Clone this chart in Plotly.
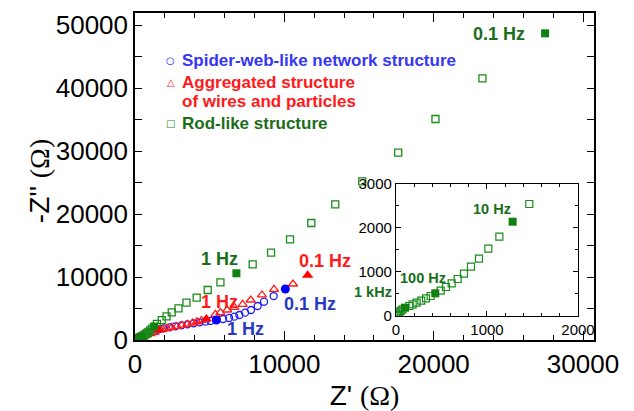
import plotly.graph_objects as go

FONT = "Liberation Sans, Arial, sans-serif"

# ---------------- data ----------------
# Spider-web-like network structure (open blue circles)
blue_x = [40, 120, 260, 450, 700, 1000, 1300, 1600, 1930, 2330, 2710, 3110, 3510, 3935,
          4335, 4715, 5050, 5900, 6300, 6650, 6990, 7370, 7770, 8215, 8640, 9285]
blue_y = [90, 260, 470, 700, 960, 1230, 1480, 1680, 1860, 2010, 2170, 2330, 2490, 2650,
          2800, 2910, 3020, 3330, 3500, 3700, 3970, 4340, 4760, 5400, 6080, 6980]
# labelled frequencies (1 Hz, 0.1 Hz)
blue_fx = [5450, 10067]
blue_fy = [3175, 8095]

# Aggregated structure of wires and particles (open red triangles)
red_x = [30, 100, 200, 350, 550, 800, 1050, 1300, 1850, 2150, 2450, 2800, 3150, 3500,
         3850, 4150, 4450, 5385, 5720, 6165, 6655, 7210, 7750, 8500, 9310, 10580]
red_y = [40, 150, 300, 450, 620, 820, 1020, 1220, 1700, 1850, 2000, 2150, 2350, 2500,
         2700, 2900, 3100, 4080, 4340, 4760, 5190, 5660, 6350, 7150, 8050, 8890]
red_fx = [40, 255, 1592, 4780, 11560]
red_fy = [60, 425, 1587, 3330, 10270]

# Rod-like structure (open green squares)
green_x = [5, 12, 22, 35, 52, 72, 146, 183, 227, 278, 330, 381, 491, 549, 612, 678, 747,
           824, 912, 1015, 1136, 1465, 1790, 2110, 2460, 2910, 3445, 4130, 4870, 5720,
           7880, 9110, 10380, 11806, 13411, 15217, 17625, 20120, 23265]
green_y = [5, 25, 55, 85, 115, 150, 227, 266, 302, 348, 402, 455, 575, 659, 743, 841, 962,
           1121, 1303, 1530, 1803, 2545, 3170, 3760, 4400, 5030, 5920, 6720, 7940, 9150,
           12010, 13860, 15980, 18570, 21540, 25190, 29730, 35080, 41540]
# labelled frequencies (1 kHz, 100 Hz, 10 Hz, 1 Hz, 0.1 Hz)
green_fx = [99, 432, 1282, 6790, 27460]
green_fy = [189, 516, 2143, 10590, 48680]

series_names = ["Spider-web-like network structure",
                "Aggregated structure<br>of wires and particles",
                "Rod-like structure"]

BLUE = "#1a1aff"
RED = "#ff1a1a"
GREEN = "#1a8c1a"
GREEN_F = "#108010"
GREEN_T = "#1a6e1a"
BLUE_T = "#2838c0"
BLUE_L = "#3636f0"

fig = go.Figure()

# ---- main plot ----
fig.add_trace(go.Scatter(
    x=blue_x, y=blue_y, mode="markers", xaxis="x", yaxis="y", name=series_names[0],
    marker=dict(symbol="circle-open", size=7, color=BLUE, line=dict(width=1.3, color=BLUE))))
fig.add_trace(go.Scatter(
    x=red_x, y=red_y, mode="markers", xaxis="x", yaxis="y", name=series_names[1],
    marker=dict(symbol="triangle-up-open", size=8, color=RED, line=dict(width=1.3, color=RED))))
fig.add_trace(go.Scatter(
    x=green_x, y=green_y, mode="markers", xaxis="x", yaxis="y", name=series_names[2],
    marker=dict(symbol="square-open", size=7, color=GREEN, line=dict(width=1.3, color=GREEN))))
fig.add_trace(go.Scatter(
    x=blue_fx, y=blue_fy, mode="markers", xaxis="x", yaxis="y",
    marker=dict(symbol="circle", size=9, color="#0000ff")))
fig.add_trace(go.Scatter(
    x=red_fx, y=red_fy, mode="markers", xaxis="x", yaxis="y",
    marker=dict(symbol="triangle-up", size=10, color="#ff0000")))
fig.add_trace(go.Scatter(
    x=green_fx, y=green_fy, mode="markers", xaxis="x", yaxis="y",
    marker=dict(symbol="square", size=8, color=GREEN_F)))

# ---- inset ----
fig.add_trace(go.Scatter(
    x=green_x, y=green_y, mode="markers", xaxis="x2", yaxis="y2",
    marker=dict(symbol="square-open", size=7, color=GREEN, line=dict(width=1.2, color=GREEN))))
fig.add_trace(go.Scatter(
    x=green_fx, y=green_fy, mode="markers", xaxis="x2", yaxis="y2",
    marker=dict(symbol="square", size=8, color=GREEN_F)))

main_ax = dict(showgrid=False, zeroline=False, showline=True, linecolor="black",
               linewidth=1.5, mirror="ticks", ticks="inside", tickcolor="black",
               automargin=False, tickformat="d",
               tickfont=dict(family=FONT, size=26, color="black"))
inset_ax = dict(showgrid=False, zeroline=False, showline=True, linecolor="black",
                linewidth=1.2, mirror="ticks", ticks="inside", ticklen=5, tickcolor="black",
                automargin=False, tickformat="d",
                tickfont=dict(family=FONT, size=15, color="black"))

# page body has an 8px margin, so the figure is drawn 8px smaller and margins reduced
fig.update_layout(
    width=626, height=403,
    margin=dict(l=127, r=40, t=5, b=71),
    paper_bgcolor="white", plot_bgcolor="white",
    font=dict(family=FONT),
    showlegend=False,
    xaxis=dict(main_ax, range=[0, 30736], dtick=10000, tick0=0, ticklen=9, tickwidth=1.3,
               minor=dict(dtick=2000, ticks="inside", ticklen=5, tickcolor="black"),
               title=dict(text="Z' <span style='font-family:Liberation Serif'>(Ω)</span>",
                          font=dict(size=28, color="black"), standoff=15)),
    yaxis=dict(main_ax, range=[0, 51905], dtick=10000, tick0=0, ticklen=7, tickwidth=1.3,
               minor=dict(dtick=5000, ticks="inside", ticklen=7, tickcolor="black")),
    xaxis2=dict(inset_ax, domain=[0.5686, 0.9651], anchor="y2", range=[0, 2000], dtick=1000,
                minor=dict(dtick=200, ticks="inside", ticklen=3, tickcolor="black")),
    yaxis2=dict(inset_ax, domain=[0.0734, 0.4771], anchor="x2", range=[0, 3000], dtick=1000,
                minor=dict(dtick=500, ticks="inside", ticklen=3, tickcolor="black")),
)

# y-axis title (placed as rotated text to match the reference position)
fig.add_annotation(text="-Z'' <span style='font-family:Liberation Serif'>(Ω)</span>",
                   x=-0.209, y=0.486, xref="paper", yref="paper", textangle=-90,
                   xanchor="center", yanchor="middle", showarrow=False,
                   font=dict(family=FONT, size=28, color="black"))

# ---- legend drawn as text ----
leg_font = dict(family=FONT, size=17, weight="bold")
legend_rows = [
    ("○", series_names[0].split("<br>")[0], 0.854, BLUE, BLUE_L),
    ("△", "Aggregated structure", 0.788, RED, RED),
    (None, "of wires and particles", 0.7288, RED, RED),
    ("□", "Rod-like structure", 0.6627, GREEN, GREEN_T),
]
for sym, txt, yy, sc, tc in legend_rows:
    fig.add_annotation(text=txt, x=0.0985, y=yy, xref="paper", yref="paper",
                       xanchor="left", yanchor="middle", showarrow=False,
                       font=dict(leg_font, color=tc))
    if sym:
        fig.add_annotation(text=sym, x=0.0784, y=yy, xref="paper", yref="paper",
                           xanchor="center", yanchor="middle", showarrow=False,
                           font=dict(family="DejaVu Sans", size=10, color=sc))

ann_font = dict(family=FONT, size=18, weight="bold")
labels = [
    ("0.1 Hz", 24380, 48620, GREEN_T),
    ("1 Hz", 5672, 12810, GREEN_T),
    ("0.1 Hz", 12696, 12590, RED),
    ("1 Hz", 5686, 6080, RED),
    ("0.1 Hz", 11739, 5714, BLUE_T),
    ("1 Hz", 7391, 1746, BLUE_T),
]
for t, x, y, c in labels:
    fig.add_annotation(text=t, x=x, y=y, xref="x", yref="y", showarrow=False,
                       font=dict(ann_font, color=c))

inset_font = dict(family=FONT, size=14.5, weight="bold", color=GREEN_T)
fig.add_annotation(text="10 Hz", x=1052, y=2432, xref="x2", yref="y2", showarrow=False,
                   font=inset_font)
fig.add_annotation(text="100 Hz", x=293, y=870, xref="x2", yref="y2", showarrow=False,
                   font=inset_font)
fig.add_annotation(text="1 kHz", x=0.5185, y=0.1162, xref="paper", yref="paper",
                   showarrow=False, font=inset_font)

fig.write_html("out.html")
